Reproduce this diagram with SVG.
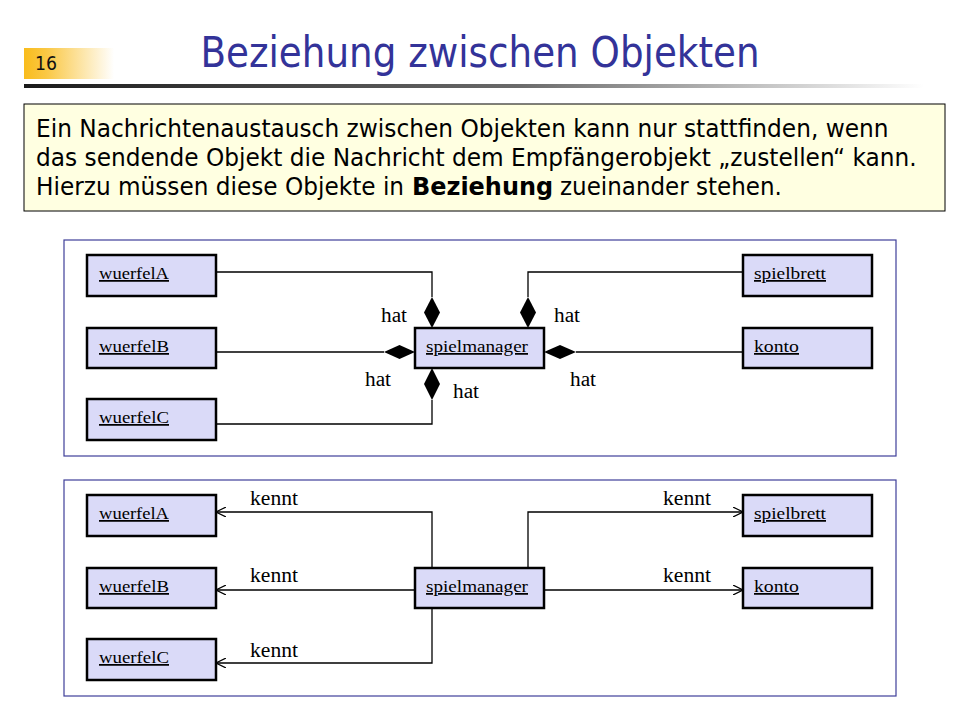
<svg xmlns="http://www.w3.org/2000/svg" width="960" height="720" viewBox="0 0 960 720">
<defs>
<linearGradient id="numGrad" x1="0" y1="0" x2="1" y2="0">
<stop offset="0" stop-color="#F9BC1C"/>
<stop offset="0.25" stop-color="#FAC845"/>
<stop offset="1" stop-color="#FFFFFF"/>
</linearGradient>
<linearGradient id="barGrad" x1="0" y1="0" x2="1" y2="0">
<stop offset="0" stop-color="#1A1A1A"/>
<stop offset="0.55" stop-color="#6A6A6A"/>
<stop offset="1" stop-color="#FFFFFF"/>
</linearGradient>
<marker id="open" viewBox="0 0 10 10" refX="10" refY="5" markerWidth="10" markerHeight="10" markerUnits="userSpaceOnUse" orient="auto">
<path d="M0,0 L10,5 L0,10" fill="none" stroke="#000" stroke-width="1.2"/>
</marker>
<style>
.panel{fill:#FFFFFF;stroke:#3F3F99;stroke-width:1.2}
.obj{fill:#DADAF8;stroke:#000;stroke-width:2.5}
.lbl{font-family:"Liberation Serif","Times New Roman",serif;font-size:17.5px;fill:#000;text-decoration:underline}
.rel{font-family:"Liberation Serif","Times New Roman",serif;font-size:20px;fill:#000}
.ln{fill:none;stroke:#000;stroke-width:1.3}
.dia{fill:#000;stroke:none}
.body{font-family:"DejaVu Sans","Noto Sans",sans-serif;font-size:24.5px;fill:#000}
</style>
</defs>
<rect width="960" height="720" fill="#FFFFFF"/>

<g id="header">
<rect x="24" y="48" width="90" height="31" fill="url(#numGrad)"/>
<text x="35" y="70" font-family="DejaVu Sans, sans-serif" font-size="20" fill="#111" textLength="22" lengthAdjust="spacingAndGlyphs">16</text>
<rect x="24" y="84" width="900" height="4" fill="url(#barGrad)"/>
<text transform="translate(480,67) scale(0.82,1)" x="0" y="0" text-anchor="middle" font-family="DejaVu Sans, sans-serif" font-size="42" fill="#333399" textLength="682" lengthAdjust="spacingAndGlyphs">Beziehung zwischen Objekten</text>
</g>

<g id="intro">
<rect x="24" y="104" width="921" height="107" fill="#FFFFE1" stroke="#000" stroke-width="1"/>
<text class="body" transform="translate(36,137) scale(0.85,1)" x="0" y="0" textLength="1003" lengthAdjust="spacingAndGlyphs">Ein Nachrichtenaustausch zwischen Objekten kann nur stattfinden, wenn</text>
<text class="body" transform="translate(36,166) scale(0.85,1)" x="0" y="0" textLength="1036" lengthAdjust="spacingAndGlyphs">das sendende Objekt die Nachricht dem Empfängerobjekt „zustellen“ kann.</text>
<text class="body" transform="translate(36,195) scale(0.85,1)" x="0" y="0" textLength="433" lengthAdjust="spacingAndGlyphs">Hierzu müssen diese Objekte in</text>
<text class="body" transform="translate(412,195) scale(0.85,1)" x="0" y="0" font-weight="bold" textLength="166" lengthAdjust="spacingAndGlyphs">Beziehung</text>
<text class="body" transform="translate(560,195) scale(0.85,1)" x="0" y="0" textLength="261" lengthAdjust="spacingAndGlyphs">zueinander stehen.</text>
</g>

<!-- Panel 1: hat -->
<rect class="panel" x="64" y="240" width="832" height="216"/>
<g id="connectors-hat">
<polyline class="ln" points="216,272 432,272 432,297"/>
<polygon class="dia" points="432,297 440,312.5 432,328 424,312.5"/>
<polyline class="ln" points="743,272 528,272 528,297"/>
<polygon class="dia" points="528,297 536,312.5 528,328 520,312.5"/>
<line class="ln" x1="216" y1="352" x2="384" y2="352"/>
<polygon class="dia" points="384,352 399.5,345 415,352 399.5,359"/>
<line class="ln" x1="576" y1="352" x2="743" y2="352"/>
<polygon class="dia" points="544,352 560,345 576,352 560,359"/>
<polyline class="ln" points="432,400 432,424 216,424"/>
<polygon class="dia" points="432,368 440,384 432,400 424,384"/>
<text class="rel" x="381" y="322" textLength="26" lengthAdjust="spacingAndGlyphs">hat</text>
<text class="rel" x="365" y="386" textLength="26" lengthAdjust="spacingAndGlyphs">hat</text>
<text class="rel" x="453" y="398" textLength="26" lengthAdjust="spacingAndGlyphs">hat</text>
<text class="rel" x="554" y="322" textLength="26" lengthAdjust="spacingAndGlyphs">hat</text>
<text class="rel" x="570" y="386" textLength="26" lengthAdjust="spacingAndGlyphs">hat</text>
</g>
<g id="hat-wuerfelA"><rect class="obj" x="87" y="255" width="129" height="41"/><text class="lbl" x="99" y="279" textLength="70" lengthAdjust="spacingAndGlyphs">wuerfelA</text></g>
<g id="hat-wuerfelB"><rect class="obj" x="87" y="328" width="129" height="40"/><text class="lbl" x="99" y="352" textLength="70" lengthAdjust="spacingAndGlyphs">wuerfelB</text></g>
<g id="hat-wuerfelC"><rect class="obj" x="87" y="399" width="129" height="41"/><text class="lbl" x="99" y="423" textLength="70" lengthAdjust="spacingAndGlyphs">wuerfelC</text></g>
<g id="hat-spielmanager"><rect class="obj" x="415" y="328" width="129" height="40"/><text class="lbl" x="426" y="352" textLength="102" lengthAdjust="spacingAndGlyphs">spielmanager</text></g>
<g id="hat-spielbrett"><rect class="obj" x="743" y="255" width="129" height="41"/><text class="lbl" x="754" y="279" textLength="72" lengthAdjust="spacingAndGlyphs">spielbrett</text></g>
<g id="hat-konto"><rect class="obj" x="743" y="328" width="129" height="40"/><text class="lbl" x="754" y="352" textLength="45" lengthAdjust="spacingAndGlyphs">konto</text></g>

<!-- Panel 2: kennt -->
<rect class="panel" x="64" y="480" width="832" height="216"/>
<g id="connectors-kennt">
<polyline class="ln" points="432,568 432,512 216,512" marker-end="url(#open)"/>
<line class="ln" x1="415" y1="590" x2="216" y2="590" marker-end="url(#open)"/>
<polyline class="ln" points="432,608 432,663 216,663" marker-end="url(#open)"/>
<polyline class="ln" points="528,568 528,512 743,512" marker-end="url(#open)"/>
<line class="ln" x1="544" y1="590" x2="743" y2="590" marker-end="url(#open)"/>
<text class="rel" x="250" y="505" textLength="48" lengthAdjust="spacingAndGlyphs">kennt</text>
<text class="rel" x="250" y="582" textLength="48" lengthAdjust="spacingAndGlyphs">kennt</text>
<text class="rel" x="250" y="657" textLength="48" lengthAdjust="spacingAndGlyphs">kennt</text>
<text class="rel" x="663" y="505" textLength="48" lengthAdjust="spacingAndGlyphs">kennt</text>
<text class="rel" x="663" y="582" textLength="48" lengthAdjust="spacingAndGlyphs">kennt</text>
</g>
<g id="kennt-wuerfelA"><rect class="obj" x="87" y="495" width="129" height="41"/><text class="lbl" x="99" y="519" textLength="70" lengthAdjust="spacingAndGlyphs">wuerfelA</text></g>
<g id="kennt-wuerfelB"><rect class="obj" x="87" y="568" width="129" height="40"/><text class="lbl" x="99" y="592" textLength="70" lengthAdjust="spacingAndGlyphs">wuerfelB</text></g>
<g id="kennt-wuerfelC"><rect class="obj" x="87" y="639" width="129" height="41"/><text class="lbl" x="99" y="663" textLength="70" lengthAdjust="spacingAndGlyphs">wuerfelC</text></g>
<g id="kennt-spielmanager"><rect class="obj" x="415" y="568" width="129" height="40"/><text class="lbl" x="426" y="592" textLength="102" lengthAdjust="spacingAndGlyphs">spielmanager</text></g>
<g id="kennt-spielbrett"><rect class="obj" x="743" y="495" width="129" height="41"/><text class="lbl" x="754" y="519" textLength="72" lengthAdjust="spacingAndGlyphs">spielbrett</text></g>
<g id="kennt-konto"><rect class="obj" x="743" y="568" width="129" height="40"/><text class="lbl" x="754" y="592" textLength="45" lengthAdjust="spacingAndGlyphs">konto</text></g>
</svg>
